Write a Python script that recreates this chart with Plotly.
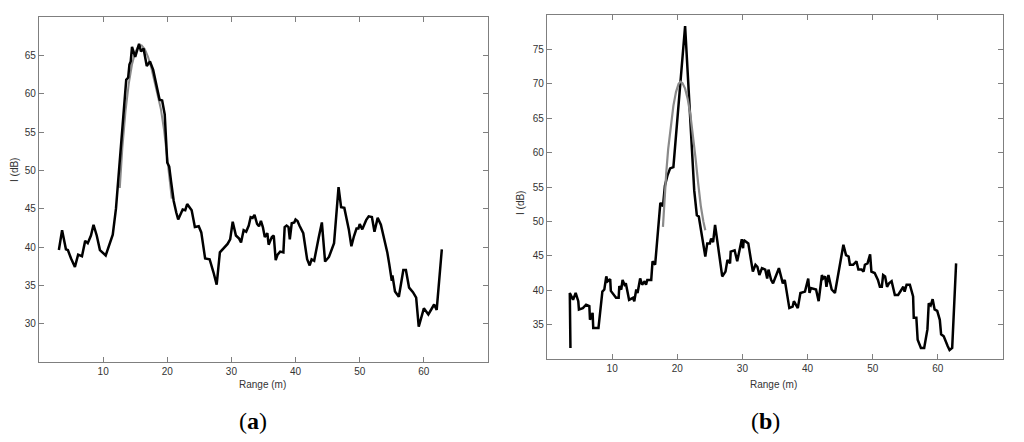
import plotly.graph_objects as go

# ---- Panel (a) data ----
a_range = [3.1, 3.6, 4.2, 4.5, 5.0, 5.6, 6.1, 6.7, 7.2, 7.6, 8.1, 8.5, 9.0, 9.5, 10.4, 11.5, 12.0, 12.5, 13.0,
           13.6, 13.9, 14.1, 14.3, 14.5, 15.0, 15.6, 15.9, 16.3, 16.8, 17.3, 17.8, 18.3, 18.8, 19.2, 19.6, 20.0,
           20.3, 20.6, 21.0, 21.4, 21.7, 22.4, 22.8, 23.1, 23.5, 23.8, 24.1, 24.3, 24.9, 25.3, 25.9, 26.6, 27.2,
           27.7, 28.2, 28.8, 29.4, 29.8, 30.2, 30.7, 31.2, 31.5, 31.9, 32.3, 32.7, 33.0, 33.3, 33.6, 34.0, 34.3,
           34.6, 34.9, 35.2, 35.6, 35.8, 36.3, 36.6, 36.9, 37.2, 37.6, 38.1, 38.3, 38.6, 38.9, 39.1, 39.4, 39.8,
           40.0, 40.3, 40.6, 41.2, 41.8, 42.2, 42.5, 42.9, 43.6, 44.1, 44.6, 45.2, 46.0, 46.7, 47.1, 47.6, 48.3,
           48.7, 49.1, 49.5, 49.8, 50.0, 50.4, 51.0, 51.4, 51.9, 52.3, 52.8, 53.3, 53.8, 54.3, 54.6, 55.0, 55.1,
           55.5, 56.1, 56.5, 56.8, 57.2, 57.7, 58.3, 58.8, 59.2, 60.0, 60.7, 61.6, 62.0, 62.8]
a_intensity = [39.6, 42.2, 39.7, 39.6, 38.5, 37.4, 39.0, 38.8, 40.8, 40.5, 41.5, 42.9, 41.5, 39.6, 38.9, 41.6, 45.0,
               50.0, 55.0, 61.8, 62.1, 63.8, 64.2, 66.1, 64.8, 66.5, 65.5, 65.9, 63.6, 64.2, 63.1, 61.0, 59.2, 59.1,
               57.3, 51.0, 50.5, 48.5, 46.0, 44.5, 43.6, 44.9, 44.8, 45.6, 45.2, 44.8, 43.5, 42.6, 42.7, 41.9, 38.5,
               38.4, 36.7, 35.1, 39.3, 39.9, 40.4, 41.0, 43.3, 41.5, 41.1, 40.6, 42.2, 42.0, 42.8, 43.9, 43.8, 44.2,
               43.0, 42.7, 43.4, 42.6, 41.3, 41.8, 40.3, 41.3, 41.5, 38.3, 39.0, 39.4, 39.3, 42.6, 42.8, 42.6, 41.0,
               43.1, 43.2, 43.6, 43.4, 42.8, 41.8, 38.4, 37.6, 38.4, 38.2, 41.2, 43.2, 38.1, 38.7, 40.5, 47.8, 45.2,
               45.1, 42.3, 40.1, 41.4, 42.4, 42.4, 43.0, 42.3, 43.5, 44.0, 43.9, 42.0, 43.8, 42.9, 41.2, 39.3, 37.8,
               35.6, 36.3, 34.2, 33.5, 35.5, 37.0, 37.0, 34.7, 34.1, 33.4, 29.6, 32.0, 31.2, 32.5, 31.8, 39.7]
a_fit_range = [12.6, 13.0, 13.5, 14.0, 14.5, 15.0, 15.5, 16.0, 16.5, 17.0, 17.5, 18.0, 18.5, 19.0, 19.5, 20.0, 20.4, 20.7]
a_fit_intensity = [47.7, 53.0, 57.8, 61.3, 63.8, 65.4, 66.2, 66.3, 65.8, 64.8, 63.4, 61.6, 60.0, 58.0, 55.2, 51.8, 49.0, 46.3]

# ---- Panel (b) data ----
b_range = [3.6, 3.5, 4.0, 4.4, 4.8, 4.9, 5.5, 6.0, 6.5, 6.6, 7.0, 7.1, 7.9, 8.3, 8.5, 8.8, 9.1, 9.3, 9.7, 9.8,
           10.6, 11.0, 11.1, 11.4, 11.6, 11.9, 12.1, 12.6, 13.2, 13.4, 13.7, 13.9, 14.3, 14.6, 15.0, 15.2, 15.4,
           16.0, 16.2, 16.6, 17.4, 17.8, 18.1, 18.5, 18.9, 19.4, 21.2, 22.6, 23.0, 23.3, 24.3, 24.6, 25.0, 25.2,
           25.5, 25.8, 26.9, 27.4, 27.7, 28.1, 28.2, 28.8, 29.2, 29.9, 30.1, 30.2, 30.9, 31.6, 32.0, 32.3, 32.6,
           33.0, 33.5, 33.8, 34.0, 34.4, 34.7, 35.6, 36.2, 36.5, 37.2, 37.7, 37.9, 38.5, 38.9, 39.6, 40.1, 40.3,
           40.5, 41.3, 41.7, 42.2, 42.4, 42.7, 42.9, 43.2, 43.7, 44.2, 45.5, 45.9, 46.3, 46.5, 47.0, 47.5, 47.8,
           48.3, 48.6, 48.8, 49.2, 49.6, 49.8, 50.3, 50.8, 51.1, 51.4, 51.6, 51.9, 52.2, 52.5, 52.9, 53.4, 53.9,
           54.7, 54.9, 55.2, 55.7, 56.2, 56.3, 56.7, 56.9, 57.4, 57.9, 58.4, 58.6, 58.9, 59.2, 59.5, 59.9, 60.3,
           60.5, 60.9, 61.5, 61.8, 62.2, 62.8]
b_intensity = [31.6, 39.6, 38.6, 39.6, 38.4, 37.2, 37.4, 37.9, 37.7, 35.7, 36.7, 34.5, 34.5, 38.4, 39.8, 40.1, 42.0,
               41.3, 41.6, 39.9, 38.9, 38.9, 40.6, 40.1, 41.5, 40.8, 41.0, 38.6, 38.9, 38.4, 40.1, 39.6, 41.7, 40.8,
               41.3, 40.8, 41.5, 41.5, 44.2, 43.7, 52.7, 52.2, 55.2, 56.7, 57.7, 57.9, 78.4, 54.5, 50.9, 50.7, 44.9,
               46.8, 46.8, 47.5, 47.0, 49.5, 42.0, 42.7, 44.4, 43.9, 45.6, 45.8, 44.2, 47.4, 46.1, 47.3, 46.8, 42.7,
               43.7, 43.4, 42.2, 43.2, 43.0, 41.7, 43.0, 41.5, 41.0, 43.2, 41.0, 41.5, 37.4, 37.6, 38.4, 37.4, 39.6,
               39.8, 41.7, 39.6, 40.3, 40.1, 38.4, 42.2, 41.7, 42.0, 40.5, 42.2, 40.1, 39.6, 46.6, 45.1, 44.9, 43.7,
               43.7, 44.2, 43.0, 43.0, 42.7, 43.7, 43.9, 45.2, 42.7, 42.5, 41.5, 40.5, 40.5, 42.2, 42.0, 40.5, 41.0,
               41.3, 39.3, 39.3, 40.5, 39.8, 40.8, 40.8, 39.1, 36.0, 36.0, 32.8, 31.6, 31.6, 34.3, 38.1, 37.8, 38.7,
               37.2, 37.0, 35.7, 33.6, 33.3, 31.9, 31.3, 31.6, 43.9]
b_fit_range = [17.8, 18.0, 18.3, 18.6, 19.0, 19.4, 19.8, 20.2, 20.5, 20.8, 21.2, 21.6, 22.0, 22.4, 22.8, 23.2, 23.6, 24.0, 24.3]
b_fit_intensity = [49.2, 53.0, 57.0, 60.5, 64.0, 66.8, 68.8, 70.0, 70.3, 70.1, 69.3, 67.8, 65.6, 62.7, 59.2, 55.6, 52.3, 50.0, 48.7]

x_ticks = [10, 20, 30, 40, 50, 60]
a_y_ticks = [30, 35, 40, 45, 50, 55, 60, 65]
b_y_ticks = [35, 40, 45, 50, 55, 60, 65, 70, 75]

BLACK = "#000000"
GREY = "#8a8a8a"

fig = go.Figure()
fig.add_trace(go.Scatter(x=a_fit_range, y=a_fit_intensity, mode="lines",
                         line=dict(color=GREY, width=2), xaxis="x", yaxis="y", showlegend=False))
fig.add_trace(go.Scatter(x=a_range, y=a_intensity, mode="lines",
                         line=dict(color=BLACK, width=2.5), xaxis="x", yaxis="y", showlegend=False))
fig.add_trace(go.Scatter(x=b_range, y=b_intensity, mode="lines",
                         line=dict(color=BLACK, width=2.5), xaxis="x2", yaxis="y2", showlegend=False))
fig.add_trace(go.Scatter(x=b_fit_range, y=b_fit_intensity, mode="lines",
                         line=dict(color=GREY, width=2.2), xaxis="x2", yaxis="y2", showlegend=False))

tickfont = dict(family="Liberation Sans, Arial, sans-serif", size=10, color="#333333")
axis_common = dict(showline=True, linecolor="#7f7f7f", linewidth=1.3, mirror="ticks",
                   ticks="inside", ticklen=5, tickcolor="#7f7f7f", tickwidth=1,
                   showgrid=False, zeroline=False, tickfont=tickfont, fixedrange=True)

fig.update_layout(
    width=1024, height=442,
    margin=dict(l=0, r=0, t=0, b=0),
    paper_bgcolor="white", plot_bgcolor="white",
    xaxis=dict(domain=[39/1024, 488/1024], range=[0, 70], tickvals=x_ticks, anchor="y", **axis_common),
    yaxis=dict(domain=[1-362/442, 1-17/442], range=[25, 70], tickvals=a_y_ticks, anchor="x", **axis_common),
    xaxis2=dict(domain=[547/1024, 1003/1024], range=[0, 70], tickvals=x_ticks, anchor="y2", **axis_common),
    yaxis2=dict(domain=[1-359/442, 1-15/442], range=[30, 80], tickvals=b_y_ticks, anchor="x2", **axis_common),
    hovermode=False,
)

label_font = dict(family="Liberation Sans, Arial, sans-serif", size=10, color="#333333")
common_ann = dict(xref="paper", yref="paper", showarrow=False, xanchor="center", yanchor="middle")
title_font = dict(family="Liberation Serif, Times New Roman, serif", size=24, color="#000000")
annotations = [
    dict(text="Range (m)", x=262/1024, y=1-384/442, font=label_font, **common_ann),
    dict(text="Range (m)", x=773/1024, y=1-384/442, font=label_font, **common_ann),
    dict(text="I (dB)", x=15/1024, y=1-170/442, textangle=-90, font=label_font, **common_ann),
    dict(text="I (dB)", x=521/1024, y=1-203/442, textangle=-90, font=label_font, **common_ann),
    dict(text="(<b>a</b>)", x=253/1024, y=1-421/442, font=title_font, **common_ann),
    dict(text="(<b>b</b>)", x=765/1024, y=1-421/442, font=title_font, **common_ann),
]
fig.update_layout(annotations=annotations)

fig.write_html("out.html", config={"displayModeBar": False},
               post_script="document.body.style.margin='0';document.body.style.overflow='hidden';")
